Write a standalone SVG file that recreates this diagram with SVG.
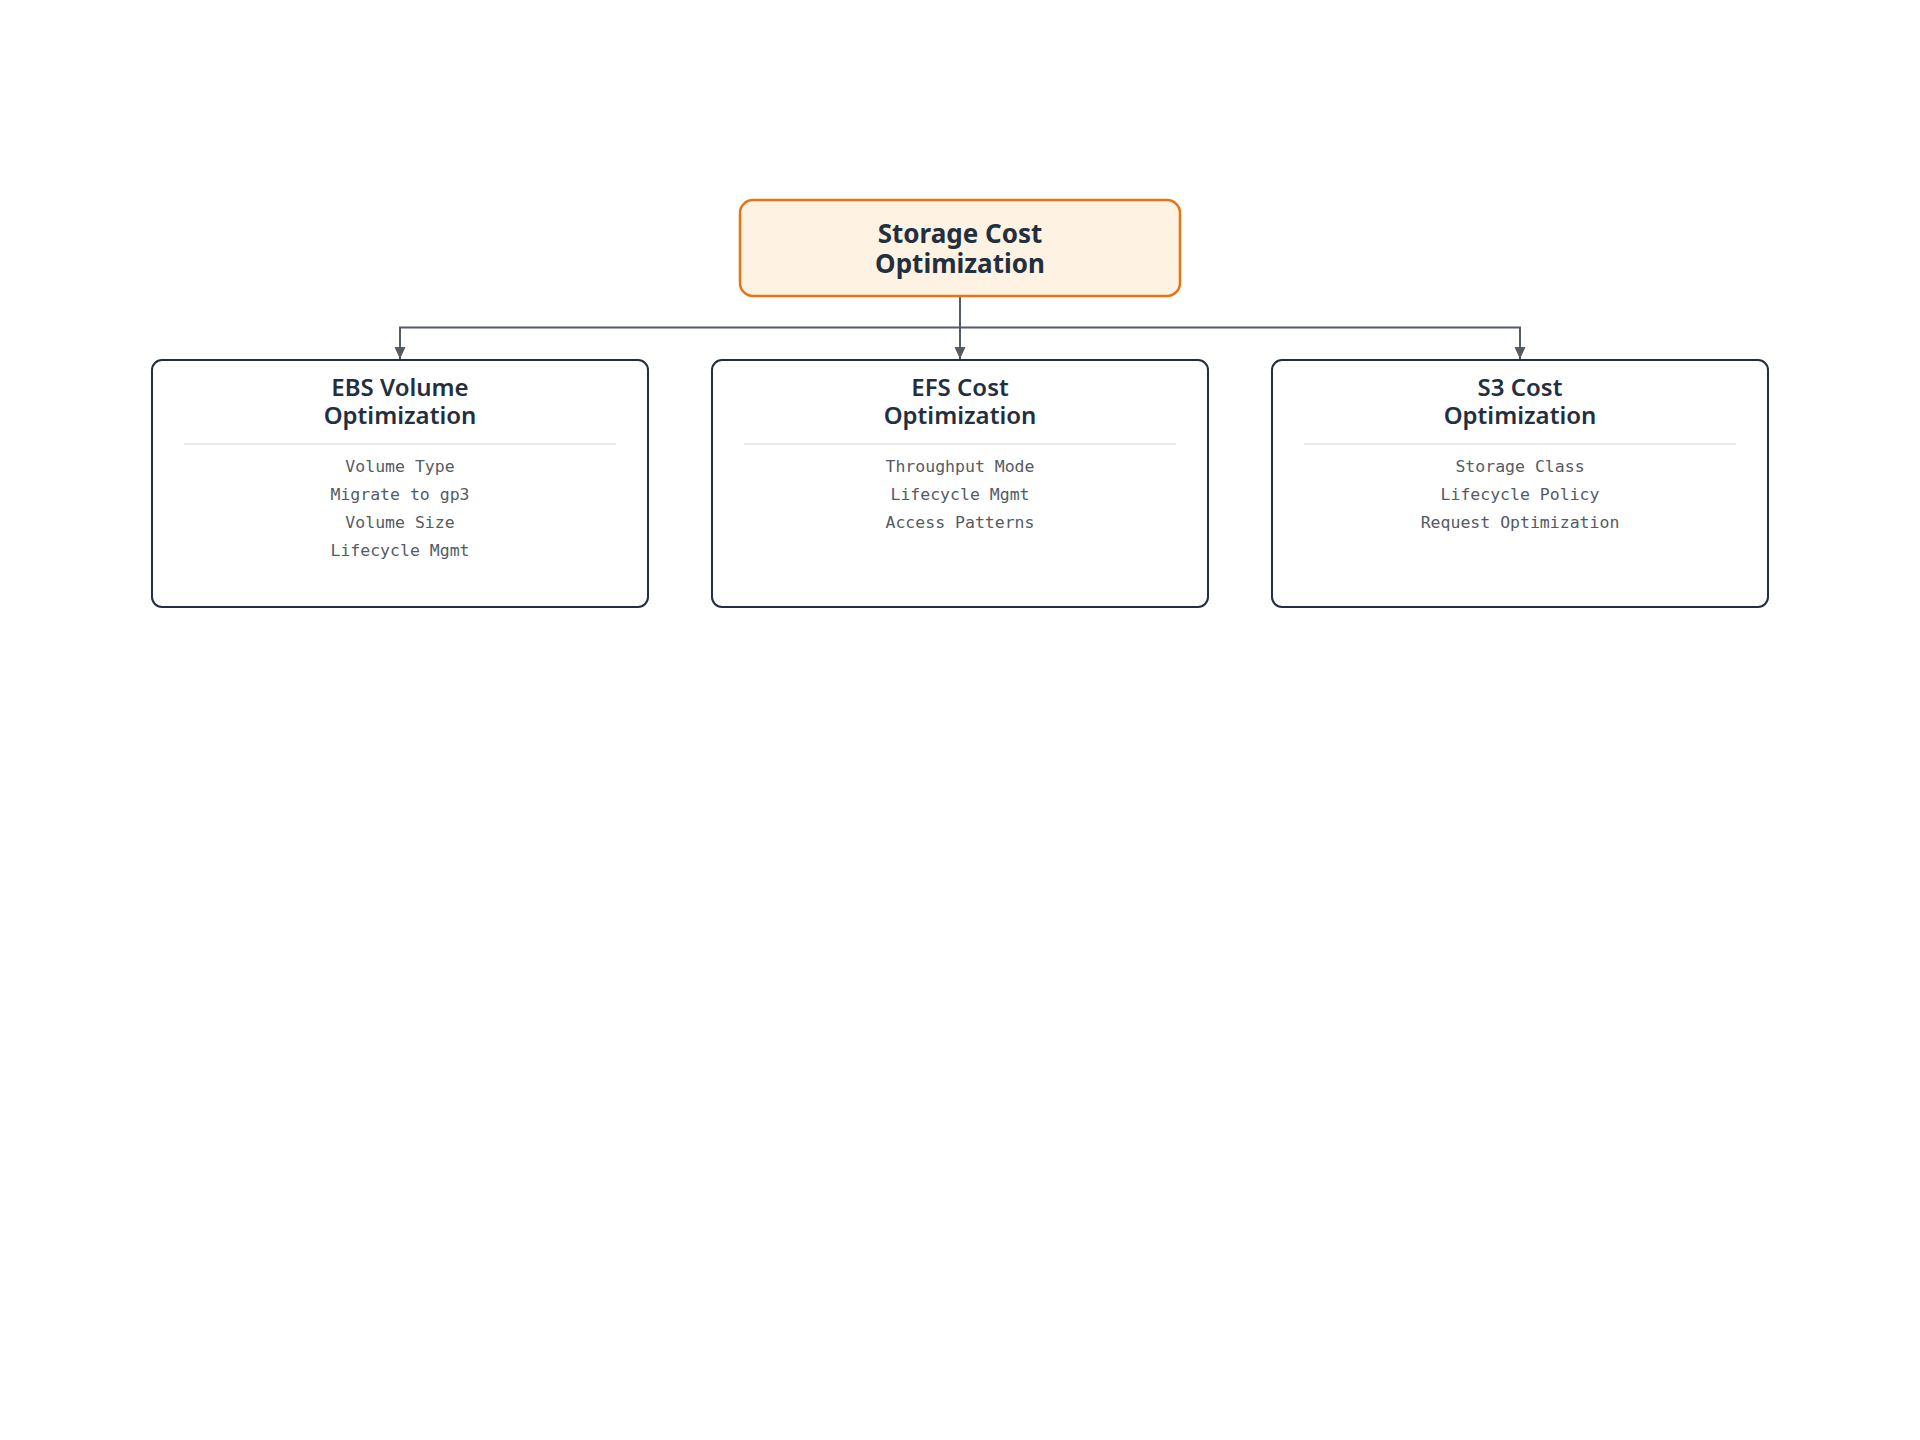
<svg xmlns="http://www.w3.org/2000/svg" width="1920" height="1440" viewBox="0 0 1920 1440">
<style>
.title{font-family:"Noto Sans","Open Sans",sans-serif;font-weight:600;fill:#232f3e;text-anchor:middle}
.rtitle{font-weight:700}
.item{font-family:"DejaVu Sans Mono","Liberation Mono",monospace;font-size:16.5px;fill:#545b64;text-anchor:middle}
.box{fill:#ffffff;stroke:#232f3e;stroke-width:2}
.div{stroke:#e9ebed;stroke-width:2}
.conn{fill:none;stroke:#545b64;stroke-width:2}
</style>
<defs>
<marker id="arr" viewBox="0 0 12 12" refX="12" refY="6" markerWidth="12" markerHeight="12" markerUnits="userSpaceOnUse" orient="auto">
<path d="M0,0.5 L12,6 L0,11.5 Z" fill="#545b64"/>
</marker>
</defs>
<rect width="1920" height="1440" fill="#ffffff"/>
<g id="connectors">
<path class="conn" d="M960,296 V327.5 H400 V359" marker-end="url(#arr)"/>
<path class="conn" d="M960,296 V359" marker-end="url(#arr)"/>
<path class="conn" d="M960,327.5 H1520 V359" marker-end="url(#arr)"/>
</g>
<g id="root">
<rect x="740" y="200" width="440" height="96" rx="13" fill="#fef3e2" stroke="#ec7211" stroke-width="2.5"/>
<text class="title rtitle" font-size="26"><tspan x="960" y="243">Storage Cost</tspan><tspan x="960" y="273">Optimization</tspan></text>
</g>
<g id="ebs">
<rect class="box" x="152" y="360" width="496" height="247" rx="10"/>
<text class="title" font-size="24"><tspan x="400" y="396">EBS Volume</tspan><tspan x="400" y="424">Optimization</tspan></text>
<line class="div" x1="184" y1="444" x2="616" y2="444"/>
<text class="item" x="400" y="472">Volume Type</text>
<text class="item" x="400" y="500">Migrate to gp3</text>
<text class="item" x="400" y="528">Volume Size</text>
<text class="item" x="400" y="556">Lifecycle Mgmt</text>
</g>
<g id="efs">
<rect class="box" x="712" y="360" width="496" height="247" rx="10"/>
<text class="title" font-size="24"><tspan x="960" y="396">EFS Cost</tspan><tspan x="960" y="424">Optimization</tspan></text>
<line class="div" x1="744" y1="444" x2="1176" y2="444"/>
<text class="item" x="960" y="472">Throughput Mode</text>
<text class="item" x="960" y="500">Lifecycle Mgmt</text>
<text class="item" x="960" y="528">Access Patterns</text>
</g>
<g id="s3">
<rect class="box" x="1272" y="360" width="496" height="247" rx="10"/>
<text class="title" font-size="24"><tspan x="1520" y="396">S3 Cost</tspan><tspan x="1520" y="424">Optimization</tspan></text>
<line class="div" x1="1304" y1="444" x2="1736" y2="444"/>
<text class="item" x="1520" y="472">Storage Class</text>
<text class="item" x="1520" y="500">Lifecycle Policy</text>
<text class="item" x="1520" y="528">Request Optimization</text>
</g>
</svg>
